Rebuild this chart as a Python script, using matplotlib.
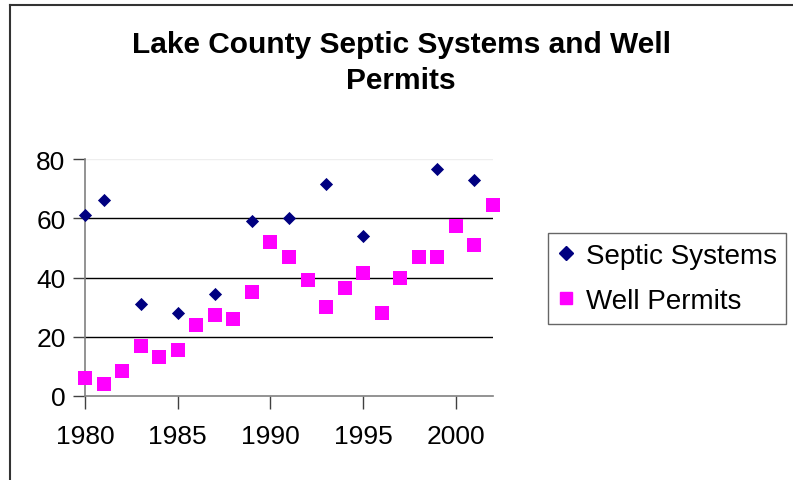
import matplotlib.pyplot as plt
from matplotlib.lines import Line2D

plt.rcParams['font.family'] = ['Liberation Sans', 'DejaVu Sans']

septic_years = [1980, 1981, 1983, 1985, 1987, 1989, 1991, 1993, 1995, 1999, 2001]
septic_values = [61, 66, 31, 28, 34.5, 59, 60, 71.5, 54, 76.5, 73]

well_years = list(range(1980, 2003))
well_values = [6, 4, 8.3, 17, 13, 15.5, 24, 27.5, 26, 35, 52, 47, 39, 30,
               36.5, 41.5, 28, 40, 47, 47, 57.5, 51, 64.5]

fig = plt.figure(figsize=(7.93, 4.81), dpi=100)
W, H = 793, 481
ax = fig.add_axes([85 / W, 1 - 397 / H, (493 - 85) / W, (397 - 160) / H])

ax.scatter(septic_years, septic_values, marker='D', s=45, color='#000080',
           zorder=3, clip_on=False, linewidths=0)
ax.scatter(well_years, well_values, marker='s', s=110, color='#ff00ff',
           zorder=3, clip_on=False, linewidths=0)

ax.set_xlim(1980, 2002)
ax.set_ylim(0, 80)
ax.set_xticks([1980, 1985, 1990, 1995, 2000])
ax.set_yticks([0, 20, 40, 60, 80])
for y in [20, 40, 60]:
    ax.axhline(y, color='black', lw=1, zorder=1)
ax.axhline(80, color='#eeeeee', lw=1, zorder=1)

for s in ['top', 'right']:
    ax.spines[s].set_visible(False)
for s in ['left', 'bottom']:
    ax.spines[s].set_color('#808080')
    ax.spines[s].set_linewidth(1.2)
ax.tick_params(axis='both', direction='out', length=9, width=1,
               color='#404040', labelsize=19, pad=5)
ax.tick_params(axis='x', pad=11)

fig.text(401 / W, 1 - 45 / H, 'Lake County Septic Systems and Well',
         ha='center', va='center', fontsize=21.5, fontweight='bold')
fig.text(401 / W, 1 - 81 / H, 'Permits',
         ha='center', va='center', fontsize=21.5, fontweight='bold')

handles = [
    Line2D([], [], marker='D', color='#000080', ls='none', markersize=7),
    Line2D([], [], marker='s', color='#ff00ff', ls='none', markersize=9),
]
leg = fig.legend(handles, ['Septic Systems', 'Well Permits'],
                 loc='upper left', bbox_to_anchor=(548 / W, 1 - 234 / H),
                 fontsize=20, frameon=True, fancybox=False,
                 handlelength=0.6, handletextpad=0.4, borderpad=0.35,
                 borderaxespad=0, labelspacing=0.7)
leg.get_frame().set_edgecolor('#404040')
leg.get_frame().set_linewidth(1)

# chart frame (top and left edges visible)
fig.add_artist(Line2D([10 / W, 1], [1 - 6 / H, 1 - 6 / H],
                      transform=fig.transFigure, color='#333333', lw=1.5))
fig.add_artist(Line2D([10 / W, 10 / W], [0, 1 - 6 / H],
                      transform=fig.transFigure, color='#333333', lw=1.5))

fig.savefig('out.png', dpi=100)
